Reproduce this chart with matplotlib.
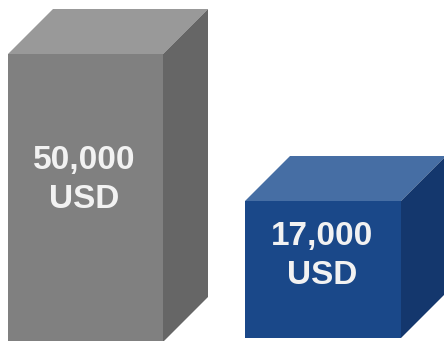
import matplotlib.pyplot as plt
from matplotlib.patches import Polygon

# 금액 데이터
amounts = [50000, 17000]
unit = "USD"

# 박스 색상 (앞면, 윗면, 옆면)
face_colors = [("#808080", "#999999", "#666666"),
               ("#1a4889", "#466ea4", "#14376d")]

# 박스 배치 (왼쪽, 앞면 위, 앞면 아래, 폭, 글자 y) - 픽셀 좌표
boxes = [(8, 54, 342, 155, 161), (245, 201, 338, 156, 237)]
depth = 45

fig = plt.figure(figsize=(4.44, 3.41), dpi=100)
ax = fig.add_axes([0, 0, 1, 1])
ax.set_xlim(0, 444)
ax.set_ylim(341, 0)
ax.axis("off")

for (x0, top, bottom, w, ty), (c_front, c_top, c_side), amt in zip(boxes, face_colors, amounts):
    x1 = x0 + w
    front = Polygon([(x0, top), (x1, top), (x1, bottom), (x0, bottom)], closed=True,
                    facecolor=c_front, edgecolor="none")
    roof = Polygon([(x0, top), (x1, top), (x1 + depth, top - depth), (x0 + depth, top - depth)],
                   closed=True, facecolor=c_top, edgecolor="none")
    side = Polygon([(x1, top), (x1 + depth, top - depth), (x1 + depth, bottom - depth), (x1, bottom)],
                   closed=True, facecolor=c_side, edgecolor="none")
    for p in (front, roof, side):
        ax.add_patch(p)

    cx = x0 + w / 2 - 1
    ax.text(cx, ty, f"{amt:,}", ha="center", va="center", color="#f2f2f2",
            fontsize=24, fontweight="bold", family="Liberation Sans")
    ax.text(cx, ty + 39, unit, ha="center", va="center", color="#f2f2f2",
            fontsize=24, fontweight="bold", family="Liberation Sans")

fig.savefig("out.png", dpi=100)
